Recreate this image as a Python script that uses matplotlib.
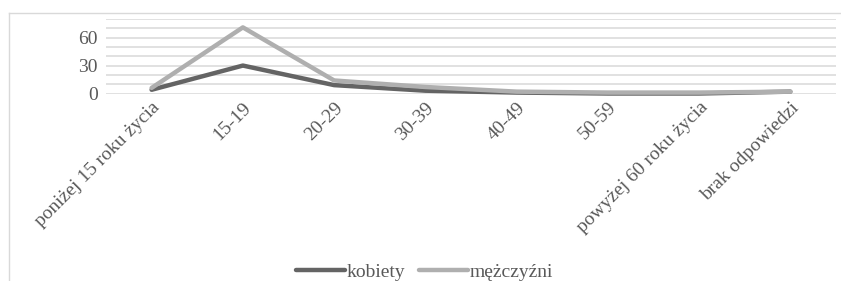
import matplotlib.pyplot as plt
from matplotlib.lines import Line2D

categories = [
    "poniżej 15 roku życia",
    "15-19",
    "20-29",
    "30-39",
    "40-49",
    "50-59",
    "powyżej 60 roku życia",
    "brak odpowiedzi",
]
kobiety = [4, 30, 9, 3, 1, 0, 0, 2]
mezczyzni = [6, 71, 14, 7, 2, 1, 1, 2]

plt.rcParams["font.family"] = ["Liberation Serif", "DejaVu Serif"]

fig = plt.figure(figsize=(8.41, 2.81), dpi=100)
ax = fig.add_axes([106 / 841, 1 - 93.5 / 281, 730 / 841, 74.5 / 281])

x = list(range(len(categories)))
ax.plot(x, kobiety, color="#646464", lw=3.2, solid_capstyle="round",
        solid_joinstyle="round", label="kobiety", clip_on=False, zorder=3)
ax.plot(x, mezczyzni, color="#afafaf", lw=3.2, solid_capstyle="round",
        solid_joinstyle="round", label="mężczyźni", clip_on=False, zorder=4)

ax.set_xlim(-0.5, len(categories) - 0.5)
ax.set_ylim(0, 80)
ax.set_yticks([0, 30, 60])
ax.set_yticks(range(0, 81, 10), minor=True)
ax.grid(True, which="both", axis="y", color="#d9d9d9", lw=1.1)
ax.set_axisbelow(True)
ax.tick_params(axis="y", which="both", length=0, pad=6, labelsize=14,
               labelcolor="#595959")
ax.set_xticks(x)
ax.set_xticklabels(categories, rotation=45, ha="right",
                   rotation_mode="anchor")
ax.tick_params(axis="x", length=0, pad=4, labelsize=14, labelcolor="#595959")
for s in ax.spines.values():
    s.set_visible(False)

# ramka wykresu
fig.add_artist(Line2D([9 / 841, 1], [1 - 13 / 281] * 2, color="#d9d9d9",
                      lw=1, transform=fig.transFigure))
fig.add_artist(Line2D([9 / 841] * 2, [0, 1 - 13 / 281], color="#d9d9d9",
                      lw=1, transform=fig.transFigure))

fig.legend(loc="center", bbox_to_anchor=(0.505, 0.033), ncol=2,
           frameon=False, fontsize=14, labelcolor="#595959",
           handlelength=2.5, handletextpad=0.1, columnspacing=0.7,
           borderpad=0)

fig.savefig("out.png", dpi=100)
